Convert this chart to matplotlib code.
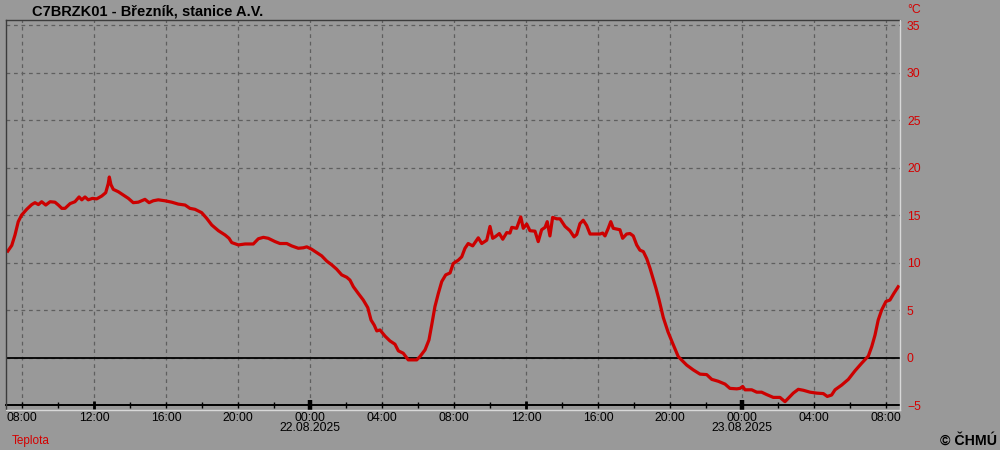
import matplotlib
matplotlib.use('Agg')
import matplotlib.pyplot as plt
import matplotlib.dates as mdates
import pandas as pd
from matplotlib.lines import Line2D

plt.rcParams['font.family'] = ['Liberation Sans', 'DejaVu Sans']

station = 'C7BRZK01 - Březník, stanice A.V.'
series_name = 'Teplota'
unit = '°C'
start = pd.Timestamp('2025-08-21 00:00')

# hours after 21.08.2025 00:00
hours = [7.21, 7.43, 7.61, 7.79, 7.98, 8.26, 8.54, 8.72, 8.91, 9.09, 9.32, 9.56, 9.83,
         10.02, 10.21, 10.39, 10.67, 10.94, 11.17, 11.32, 11.5, 11.68, 11.91, 12.15,
         12.43, 12.65, 12.79, 12.85, 12.94, 13.07, 13.35, 13.63, 13.91, 14.18, 14.46,
         14.65, 14.83, 15.06, 15.29, 15.57, 15.94, 16.32, 16.68, 17.06, 17.33, 17.61,
         17.98, 18.26, 18.54, 18.91, 19.28, 19.5, 19.65, 20.02, 20.39, 20.85, 21.13,
         21.41, 21.68, 22.06, 22.33, 22.71, 22.98, 23.35, 23.63, 23.82, 24.09, 24.37,
         24.65, 24.93, 25.21, 25.48, 25.76, 26.04, 26.22, 26.41, 26.68, 26.96, 27.21,
         27.39, 27.57, 27.71, 27.89, 28.17, 28.44, 28.72, 28.91, 29.18, 29.46, 29.93,
         30.11, 30.39, 30.61, 30.76, 30.94, 31.13, 31.32, 31.54, 31.78, 31.96, 32.24,
         32.43, 32.61, 32.79, 33.04, 33.35, 33.54, 33.82, 34.0, 34.15, 34.28, 34.52,
         34.71, 34.93, 35.11, 35.21, 35.48, 35.71, 35.85, 36.04, 36.22, 36.5, 36.68,
         36.87, 37.06, 37.18, 37.33, 37.48, 37.71, 37.89, 38.17, 38.44, 38.67, 38.82,
         39.0, 39.18, 39.37, 39.56, 39.83, 40.11, 40.26, 40.39, 40.57, 40.71, 40.85,
         41.22, 41.37, 41.59, 41.78, 41.96, 42.15, 42.33, 42.52, 42.71, 42.89, 43.06,
         43.22, 43.39, 43.63, 43.89, 44.17, 44.46, 44.56, 44.93, 45.29, 45.67, 46.04,
         46.32, 46.68, 47.06, 47.33, 47.71, 47.89, 48.04, 48.17, 48.54, 48.82, 49.09,
         49.37, 49.74, 50.11, 50.39, 50.57, 50.85, 51.13, 51.41, 51.78, 52.15, 52.52,
         52.74, 52.98, 53.17, 53.54, 53.91, 54.28, 54.65, 55.02, 55.21, 55.39, 55.57,
         55.76, 56.0, 56.22, 56.44, 56.68]
temp = [11.2, 11.8, 12.9, 14.3, 15.0, 15.6, 16.1, 16.3, 16.1, 16.4, 16.05, 16.4, 16.35,
        16.05, 15.7, 15.7, 16.2, 16.4, 16.9, 16.6, 16.9, 16.6, 16.75, 16.7,
        17.0, 17.35, 18.3, 19.0, 18.2, 17.7, 17.45, 17.1, 16.75, 16.3, 16.35,
        16.5, 16.65, 16.3, 16.5, 16.6, 16.5, 16.35, 16.15, 16.05, 15.7, 15.6,
        15.25, 14.65, 13.95, 13.35, 12.9, 12.55, 12.1, 11.85, 11.95, 11.95, 12.5,
        12.65, 12.55, 12.2, 12.0, 12.0, 11.75, 11.5, 11.55, 11.65, 11.4, 11.05,
        10.7, 10.15, 9.75, 9.3, 8.7, 8.45, 8.15, 7.45, 6.75, 6.05, 5.25,
        3.95, 3.4, 2.8, 2.9, 2.25, 1.75, 1.4, 0.7, 0.45, -0.25, -0.25,
        0.1, 0.8, 1.85, 3.4, 5.35, 6.75, 8.0, 8.7, 8.9, 9.9, 10.25,
        10.6, 11.5, 12.0, 11.75, 12.6, 12.0, 12.35, 13.8, 12.55, 12.7, 13.05,
        12.45, 13.15, 13.1, 13.7, 13.6, 14.8, 13.6, 14.05, 13.35, 13.3, 12.2,
        13.45, 13.7, 14.3, 12.8, 14.75, 14.6, 14.6, 13.8, 13.35, 12.7, 12.95,
        14.1, 14.45, 13.9, 13.0, 13.0, 13.0, 13.1, 12.8, 13.6, 14.3, 13.6,
        13.45, 12.55, 13.0, 13.05, 12.8, 11.85, 11.3, 11.15, 10.4, 9.4, 8.3,
        7.3, 6.1, 4.2, 2.7, 1.4, 0.1, -0.1, -0.8, -1.3, -1.75, -1.8,
        -2.3, -2.5, -2.8, -3.25, -3.3, -3.25, -3.05, -3.4, -3.4, -3.65, -3.65,
        -3.9, -4.2, -4.2, -4.65, -4.3, -3.75, -3.35, -3.45, -3.65, -3.75, -3.8,
        -4.1, -3.95, -3.4, -2.9, -2.3, -1.4, -0.6, 0.15, 1.15, 2.35, 3.95,
        5.0, 5.9, 6.05, 6.75, 7.45]
y_ticks = [-5, 0, 5, 10, 15, 20, 25, 30, 35]

times = start + pd.to_timedelta(hours, unit='h')
days = pd.date_range('2025-08-22', '2025-08-23', freq='D')
noons = pd.date_range('2025-08-21 12:00', '2025-08-22 12:00', freq='D')

bg = '#999999'
red_line = '#cc0000'
red_text = '#d40000'
W, H = 1000, 450

fig = plt.figure(figsize=(10, 4.5), dpi=100, facecolor=bg)
ax = fig.add_axes([6 / W, 1 - 405 / H, 894 / W, 385 / H])
ax.set_facecolor(bg)

ax.plot(times, temp, color=red_line, lw=2.3, solid_joinstyle='round', zorder=3)
ax.axhline(0, color='black', lw=1.3, zorder=2)

ax.set_xlim(start + pd.Timedelta(hours=7.11), start + pd.Timedelta(hours=56.78))
ax.set_ylim(-5, 35.53)

# grid
ax.xaxis.set_major_locator(mdates.HourLocator(byhour=range(0, 24, 4)))
ax.xaxis.set_minor_locator(mdates.HourLocator(byhour=range(0, 24, 2)))
ax.xaxis.set_major_formatter(mdates.DateFormatter('%H:%M'))
ax.set_yticks(y_ticks)
ax.grid(True, which='major', color='#5f5f5f', lw=0.9, linestyle=(0, (3, 3)))

ax.yaxis.tick_right()
ax.tick_params(axis='y', length=0, pad=5, labelsize=8.8, labelcolor=red_text)
ax.tick_params(axis='x', which='both', direction='inout', length=4.5, width=1,
               color='black', labelsize=8.8, pad=2.5)

# stronger ticks at noon and midnight
ax.plot(noons, [-5] * len(noons), marker='|', ms=6, mew=2, color='black',
        ls='none', clip_on=False, zorder=5)
ax.plot(days, [-5] * len(days), marker='|', ms=7, mew=3.2, color='black',
        ls='none', clip_on=False, zorder=5)

for d in days:
    ax.annotate(d.strftime('%d.%m.%Y'), xy=(mdates.date2num(d), 0),
                xycoords=('data', 'axes fraction'), xytext=(0, -16.5),
                textcoords='offset points', ha='center', va='center', fontsize=8.8)

for side in ['top', 'right', 'left']:
    ax.spines[side].set_visible(False)
ax.spines['bottom'].set_color('black')
ax.spines['bottom'].set_linewidth(1.4)

# frame lines
def fline(x0, y0, x1, y1, c):
    fig.add_artist(Line2D([x0 / W, x1 / W], [1 - y0 / H, 1 - y1 / H], color=c, lw=1))

fline(6, 20, 900, 20, '#3c3c3c')
fline(6, 20, 6, 410, '#3c3c3c')
fline(900, 20, 900, 410, '#d8d8d8')
fline(6, 410, 900, 410, '#d8d8d8')

fig.text(32 / W, 1 - 11 / H, station, fontsize=10.5, fontweight='bold', va='center', ha='left')
fig.text(907 / W, 1 - 10 / H, unit, fontsize=8.8, color=red_text, va='center', ha='left')
fig.text(12 / W, 1 - 441 / H, series_name, fontsize=8.5, color=red_text, va='center', ha='left')
fig.text(997 / W, 1 - 441 / H, '© ČHMÚ', fontsize=10.2, fontweight='bold', va='center', ha='right')

fig.savefig('out.png', dpi=100, facecolor=bg)
